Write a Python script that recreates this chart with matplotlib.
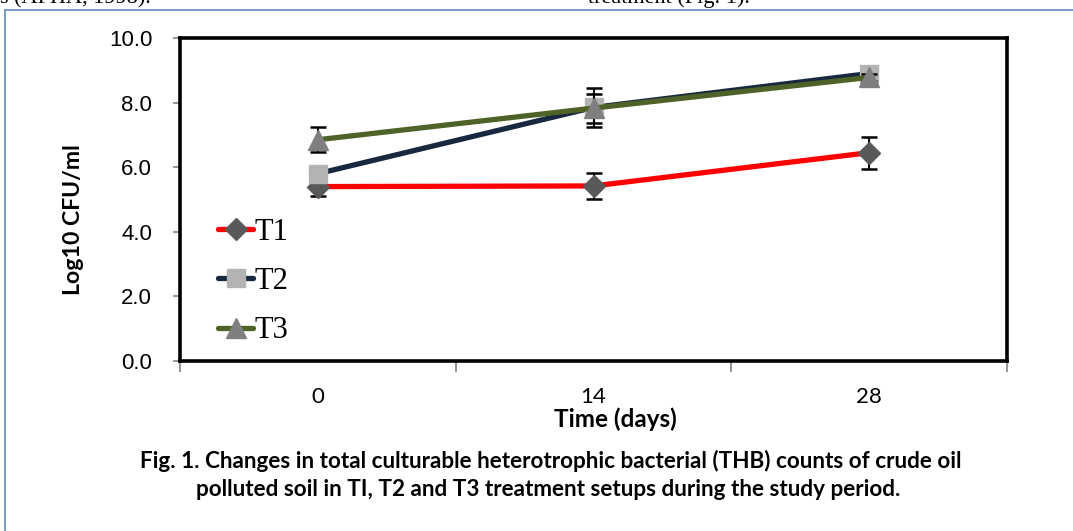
import matplotlib
matplotlib.use('Agg')
import matplotlib.pyplot as plt
from matplotlib.lines import Line2D

# ---- data ----
days = ['0', '14', '28']
series_names = ['T1', 'T2', 'T3']
t1 = [5.40, 5.42, 6.45]
t2 = [5.80, 7.85, 8.90]
t3 = [6.85, 7.83, 8.78]
t1_err = [0.28, 0.40, 0.50]
t2_err = [0.10, 0.60, 0.10]
t3_err = [0.38, 0.45, 0.10]
yticks = [0, 2, 4, 6, 8, 10]
ylabel = 'Log10 CFU/ml'
xlabel = 'Time (days)'
caption1 = 'Fig. 1. Changes in total culturable heterotrophic bacterial (THB) counts of crude oil'
caption2 = 'polluted soil in TI, T2 and T3 treatment setups during the study period.'

W, H = 1073, 531
fig = plt.figure(figsize=(W / 100, H / 100), dpi=100)
fig.patch.set_facecolor('white')

def fx(px):
    return px / W

def fy(py):
    return 1 - py / H

ax = fig.add_axes([fx(180), fy(361), 827 / W, 323 / H])
x = list(range(len(days)))

styles = [
    dict(color='#FF0000', marker='D', ms=11, mfc='#595959', mec='#595959'),
    dict(color='#17283F', marker='s', ms=13.5, mfc='#B3B3B3', mec='#B3B3B3'),
    dict(color='#4F6228', marker='^', ms=15, mfc='#7F7F7F', mec='#7F7F7F'),
]
data = [t1, t2, t3]
errs = [t1_err, t2_err, t3_err]

for i, (name, vals, err, st) in enumerate(zip(series_names, data, errs, styles)):
    ax.errorbar(x, vals, yerr=err, fmt='none', ecolor='black', elinewidth=1.5,
                capsize=6, capthick=1.8, zorder=3 + i * 2)
    ax.plot(x, vals, lw=3.8, label=name, zorder=4 + i * 2,
            solid_capstyle='round', **st)

ax.set_xlim(-0.5, len(days) - 0.5)
ax.set_ylim(0, 10)
ax.set_yticks(yticks)
ax.set_yticklabels([f'{v:.1f}' for v in yticks], family='Liberation Sans', fontsize=16)
ax.set_xticks(x)
ax.set_xticklabels(days, family='Lato', fontsize=16)
ax.set_xticks([-0.5, 0.5, 1.5, 2.5], minor=True)
ax.tick_params(axis='x', which='major', length=0, pad=19)
ax.tick_params(axis='x', which='minor', length=8, width=1.2, color='#808080', direction='out')
ax.tick_params(axis='y', length=5, width=1.2, color='#808080', direction='out', pad=15)

for s in ax.spines.values():
    s.set_linewidth(2.6)
    s.set_color('black')

leg = ax.legend(loc='upper left', bbox_to_anchor=(fx(218), fy(218)),
                bbox_transform=fig.transFigure, frameon=False,
                prop={'family': 'Liberation Serif', 'size': 22},
                handlelength=1.15, handletextpad=0.05, labelspacing=0.66,
                borderpad=0, borderaxespad=0, numpoints=1)

fig.text(fx(74), fy(220), ylabel, rotation=90, ha='center', va='center',
         family='Lato', fontweight='bold', fontsize=16.6)
fig.text(fx(615), fy(419), xlabel, ha='center', va='center',
         family='Lato', fontweight='bold', fontsize=17.5)
fig.text(fx(551), fy(461), caption1, ha='center', va='center',
         family='Lato', fontweight='bold', fontsize=16.2)
fig.text(fx(548), fy(490), caption2, ha='center', va='center',
         family='Lato', fontweight='bold', fontsize=16.2)

# page fragments and frame (cut off at the top edge, as in the reference)
fig.text(fx(0), fy(3), 's (APHA, 1998).', ha='left', va='baseline',
         family='Liberation Serif', fontsize=16)
fig.text(fx(588), fy(3), 'treatment (Fig. 1).', ha='left', va='baseline',
         family='Liberation Serif', fontsize=16)
fig.add_artist(Line2D([fx(5), fx(5)], [fy(10), 0], color='#6E95C8', lw=1.3))
fig.add_artist(Line2D([fx(5), 1], [fy(10), fy(10)], color='#6E95C8', lw=1.3))

fig.savefig('out.png', dpi=100)
